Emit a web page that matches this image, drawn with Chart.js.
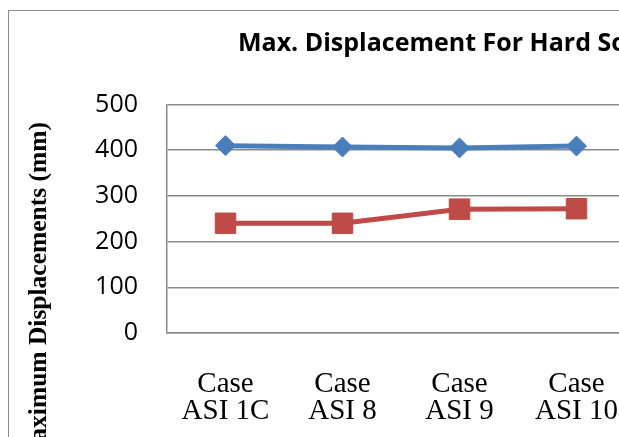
<!DOCTYPE html>
<html>
<head>
<meta charset="utf-8">
<script src="https://cdn.jsdelivr.net/npm/chart.js@4"></script>
<style>
  html, body { margin: 0; padding: 0; background: #ffffff; overflow: hidden; }
  #frame {
    position: absolute; left: 8px; top: 10px;
    width: 862px; height: 470px;
    border: 1.5px solid #8c8c8c;
    background: #ffffff;
  }
  canvas { display: block; }
</style>
</head>
<body>
<div id="frame"><canvas id="chart" width="862" height="470"></canvas></div>
<script>
// Load cases along the horizontal axis
const categories = [
  ['Case', 'ASI 1C'],
  ['Case', 'ASI 8'],
  ['Case', 'ASI 9'],
  ['Case', 'ASI 10']
];
// Maximum displacements (mm)
const series1 = [410, 407, 405, 409];
const series2 = [240, 240, 271, 272];
// Vertical axis ticks
const yTicks = [0, 100, 200, 300, 400, 500];

const gridGrey = '#8a8a8a';

// Rotated vertical axis caption, anchored by its end
const axisCaption = {
  id: 'axisCaption',
  afterDraw(chart) {
    const ctx = chart.ctx;
    ctx.save();
    ctx.translate(30, 111);
    ctx.rotate(-Math.PI / 2);
    ctx.font = 'bold 25.5px "Liberation Serif", "Times New Roman", serif';
    ctx.fillStyle = '#000000';
    ctx.textAlign = 'right';
    ctx.textBaseline = 'middle';
    ctx.fillText('Maximum Displacements (mm)', 0, 0);
    ctx.restore();
  }
};

new Chart(document.getElementById('chart'), {
  type: 'line',
  data: {
    labels: categories,
    datasets: [
      {
        label: 'Series1',
        data: series1,
        borderColor: '#4a7ebb',
        backgroundColor: '#4a7ebb',
        borderWidth: 5,
        pointStyle: 'rectRot',
        pointRadius: 10,
        pointBorderWidth: 1,
        pointBackgroundColor: '#4a7ebb',
        pointBorderColor: '#4a7ebb',
        tension: 0
      },
      {
        label: 'Series2',
        data: series2,
        borderColor: '#be4b48',
        backgroundColor: '#be4b48',
        borderWidth: 5,
        pointStyle: 'rect',
        pointRadius: 14.5,
        pointBorderWidth: 1,
        pointBackgroundColor: '#be4b48',
        pointBorderColor: '#be4b48',
        tension: 0
      }
    ]
  },
  options: {
    responsive: false,
    animation: false,
    devicePixelRatio: 1,
    layout: { padding: 0 },
    plugins: {
      legend: { display: false },
      tooltip: { enabled: false },
      title: {
        display: true,
        text: 'Max. Displacement For Hard Soil',
        color: '#000000',
        font: { family: '"Open Sans", Lato, sans-serif', size: 25, weight: 'bold', lineHeight: 1.2 },
        padding: { top: 18, bottom: 45.5 }
      }
    },
    scales: {
      x: {
        type: 'category',
        offset: true,
        grid: { display: false, drawTicks: false },
        border: { display: true, color: gridGrey, width: 1.5 },
        ticks: {
          color: '#000000',
          padding: 38,
          maxRotation: 0,
          autoSkip: false,
          font: { family: '"Liberation Serif", "Times New Roman", serif', size: 29, lineHeight: 0.93 }
        },
        afterFit(scale) { scale.height = 148; }
      },
      y: {
        min: 0,
        max: 500,
        afterBuildTicks(scale) { scale.ticks = yTicks.map(v => ({ value: v })); },
        grid: { color: gridGrey, lineWidth: 1.5, drawTicks: false },
        border: { display: true, color: gridGrey, width: 1.5 },
        ticks: {
          color: '#000000',
          padding: 29,
          font: { family: '"Open Sans", Lato, sans-serif', size: 25 }
        },
        afterFit(scale) { scale.width = 158; }
      },
      gap: {
        type: 'linear',
        position: 'right',
        display: true,
        grid: { display: false, drawTicks: false },
        border: { display: false },
        ticks: { display: false },
        afterFit(scale) { scale.width = 236; }
      }
    }
  },
  plugins: [axisCaption]
});
</script>
</body>
</html>
